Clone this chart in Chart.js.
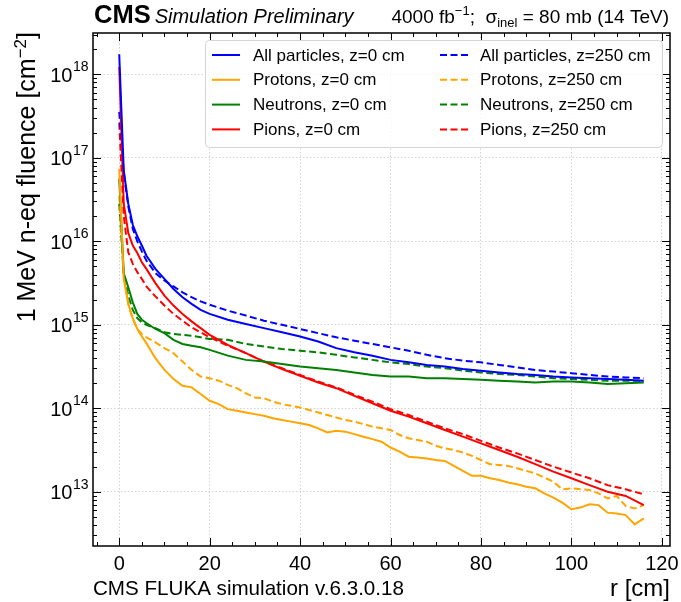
<!DOCTYPE html>
<html lang="en">
  <head>
    <meta charset="UTF-8" />
    <title>1 MeV n-eq fluence vs r</title>
    <script src="https://cdn.jsdelivr.net/npm/chart.js"></script>
    <style>
      body { margin: 0; background: #fff; }
      canvas { display: block; }
    </style>
  </head>
  <body>
    <canvas id="fluence" width="681" height="602"></canvas>

    <script>
      // radius samples [cm]
      const rCoarse = [0, 1, 2, 3, 4, 5, 6, 8, 10, 12, 14, 16, 18, 20, 24, 28, 32, 36, 40, 44, 48, 52, 56, 60,
        64, 68, 72, 76, 80, 84, 88, 92, 96, 100, 104, 108, 112, 116];
      const rFine = [0, 1, 2, 3, 4, 5, 6, 8, 10, 12, 14, 16, 18, 20, 22, 24, 26, 28, 30, 32, 34, 36, 38, 40,
        42, 44, 46, 48, 50, 52, 54, 56, 58, 60, 62, 64, 66, 68, 70, 72, 74, 76, 78, 80, 82, 84, 86, 88, 90,
        92, 94, 96, 98, 100, 102, 104, 106, 108, 110, 112, 114, 116];

      // fluence [cm^-2], z = 0 cm
      const allZ0 = [1.74e18, 7.08e16, 2.82e16, 1.58e16, 1.15e16, 8.91e15, 6.76e15, 4.68e15, 3.55e15, 2.69e15,
        2.14e15, 1.78e15, 1.51e15, 1.35e15, 1.15e15, 1.02e15, 9.12e14, 8.13e14, 7.24e14, 6.31e14, 5.25e14,
        4.68e14, 4.27e14, 3.80e14, 3.55e14, 3.31e14, 3.16e14, 2.95e14, 2.82e14, 2.69e14, 2.57e14, 2.51e14,
        2.40e14, 2.34e14, 2.29e14, 2.24e14, 2.19e14, 2.14e14];
      const protonsZ0 = [7.41e16, 3.55e15, 1.78e15, 1.20e15, 8.91e14, 7.24e14, 6.03e14, 3.98e14, 2.88e14,
        2.24e14, 1.86e14, 1.78e14, 1.48e14, 1.23e14, 1.12e14, 9.77e13, 9.33e13, 8.91e13, 8.51e13, 8.13e13,
        7.59e13, 7.24e13, 6.92e13, 6.61e13, 6.31e13, 5.75e13, 5.13e13, 5.37e13, 5.25e13, 4.90e13, 4.57e13,
        4.27e13, 3.98e13, 3.39e13, 3.02e13, 2.63e13, 2.57e13, 2.51e13, 2.40e13, 2.34e13, 2.04e13, 1.78e13,
        1.55e13, 1.55e13, 1.45e13, 1.38e13, 1.29e13, 1.23e13, 1.15e13, 1.10e13, 9.55e12, 8.51e12, 7.41e12,
        6.17e12, 6.46e12, 7.08e12, 6.92e12, 5.62e12, 5.50e12, 5.25e12, 4.07e12, 4.79e12];
      const neutronsZ0 = [5.62e16, 4.17e15, 2.82e15, 1.86e15, 1.35e15, 1.15e15, 1.05e15, 8.91e14, 7.94e14,
        6.61e14, 5.89e14, 5.62e14, 5.37e14, 5.01e14, 4.27e14, 3.80e14, 3.63e14, 3.39e14, 3.16e14, 3.02e14,
        2.88e14, 2.69e14, 2.51e14, 2.40e14, 2.40e14, 2.29e14, 2.29e14, 2.24e14, 2.19e14, 2.14e14, 2.09e14,
        2.04e14, 2.09e14, 2.09e14, 2.04e14, 1.95e14, 2.00e14, 2.04e14];
      const pionsZ0 = [1.23e18, 2.82e16, 1.26e16, 8.91e15, 7.24e15, 5.62e15, 4.68e15, 3.16e15, 2.24e15,
        1.70e15, 1.35e15, 1.10e15, 9.12e14, 7.59e14, 5.75e14, 4.57e14, 3.63e14, 2.95e14, 2.45e14, 2.04e14,
        1.74e14, 1.41e14, 1.15e14, 9.33e13, 7.94e13, 6.61e13, 5.50e13, 4.57e13, 3.80e13, 3.16e13, 2.63e13,
        2.14e13, 1.74e13, 1.45e13, 1.20e13, 1.00e13, 8.91e12, 6.92e12];

      // fluence [cm^-2], z = 250 cm
      const allZ250 = [3.55e17, 6.61e16, 2.63e16, 1.41e16, 1.00e16, 7.59e15, 5.89e15, 4.17e15, 3.39e15,
        2.88e15, 2.45e15, 2.14e15, 1.91e15, 1.74e15, 1.48e15, 1.29e15, 1.12e15, 1.00e15, 8.91e14, 7.94e14,
        7.08e14, 6.46e14, 5.89e14, 5.37e14, 4.90e14, 4.37e14, 3.98e14, 3.72e14, 3.55e14, 3.31e14, 3.09e14,
        2.88e14, 2.75e14, 2.63e14, 2.51e14, 2.40e14, 2.34e14, 2.29e14];
      const protonsZ250 = [3.55e16, 3.98e15, 1.78e15, 1.17e15, 8.91e14, 7.76e14, 7.08e14, 6.17e14, 5.25e14,
        4.57e14, 3.63e14, 2.88e14, 2.40e14, 2.29e14, 2.14e14, 1.91e14, 1.74e14, 1.51e14, 1.35e14, 1.32e14,
        1.20e14, 1.12e14, 1.07e14, 1.02e14, 9.55e13, 8.91e13, 8.32e13, 7.76e13, 7.24e13, 6.92e13, 6.46e13,
        6.03e13, 5.75e13, 5.50e13, 4.79e13, 4.37e13, 4.17e13, 3.98e13, 3.55e13, 3.31e13, 3.16e13, 2.95e13,
        2.69e13, 2.40e13, 2.14e13, 2.09e13, 2.04e13, 1.91e13, 1.78e13, 1.66e13, 1.48e13, 1.32e13, 1.07e13,
        1.10e13, 1.07e13, 1.05e13, 9.55e12, 8.32e12, 8.91e12, 6.76e12, 6.31e12, 6.92e12];
      const neutronsZ250 = [2.82e16, 3.98e15, 2.24e15, 1.51e15, 1.20e15, 1.07e15, 1.00e15, 9.12e14, 8.13e14,
        7.76e14, 7.59e14, 7.41e14, 7.08e14, 6.76e14, 6.61e14, 5.89e14, 5.50e14, 5.13e14, 4.90e14, 4.68e14,
        4.37e14, 4.07e14, 3.80e14, 3.55e14, 3.39e14, 3.16e14, 3.02e14, 2.82e14, 2.69e14, 2.57e14, 2.51e14,
        2.40e14, 2.29e14, 2.24e14, 2.19e14, 2.14e14, 2.14e14, 2.14e14];
      const pionsZ250 = [2.63e17, 2.00e16, 7.41e15, 5.37e15, 4.27e15, 3.55e15, 2.88e15, 2.19e15, 1.70e15,
        1.35e15, 1.12e15, 9.33e14, 8.13e14, 7.08e14, 5.62e14, 4.57e14, 3.63e14, 3.02e14, 2.51e14, 2.09e14,
        1.78e14, 1.45e14, 1.20e14, 9.77e13, 8.32e13, 6.92e13, 5.75e13, 4.90e13, 4.07e13, 3.39e13, 2.88e13,
        2.40e13, 2.00e13, 1.70e13, 1.45e13, 1.20e13, 1.07e13, 9.33e12];

      const xTicks = [0, 20, 40, 60, 80, 100, 120];
      const yExps = [13, 14, 15, 16, 17, 18];

      const FONT = '"Liberation Sans", Arial, Helvetica, sans-serif';
      const DASH = [7, 3.5];

      function pts(r, v) {
        return r.map((x, i) => ({ x: x, y: v[i] }));
      }

      function series(label, r, v, color, dashed) {
        return {
          label: label,
          data: pts(r, v),
          borderColor: color,
          backgroundColor: color,
          borderWidth: 2,
          borderDash: dashed ? DASH : [],
          pointRadius: 0,
          tension: 0,
          fill: false,
        };
      }

      // draws frame, inward ticks, tick labels, texts and the 2-column legend
      const decorations = {
        id: 'decorations',
        afterDraw(chart) {
          const { ctx, chartArea: a } = chart;
          const x = chart.scales.x;
          const y = chart.scales.y;
          ctx.save();

          // ticks
          ctx.strokeStyle = '#000';
          ctx.lineWidth = 1;
          ctx.beginPath();
          for (let v = -5; v <= 120; v += 5) {
            const px = Math.round(x.getPixelForValue(v)) + 0.5;
            if (px < a.left || px > a.right) continue;
            const len = v % 20 === 0 ? 8 : 4;
            ctx.moveTo(px, a.bottom); ctx.lineTo(px, a.bottom - len);
            ctx.moveTo(px, a.top); ctx.lineTo(px, a.top + len);
          }
          for (let e = 12; e <= 18; e++) {
            for (let m = 1; m < 10; m++) {
              const py = Math.round(y.getPixelForValue(m * Math.pow(10, e))) + 0.5;
              if (py < a.top || py > a.bottom) continue;
              const len = m === 1 ? 8 : 4;
              ctx.moveTo(a.left, py); ctx.lineTo(a.left + len, py);
              ctx.moveTo(a.right, py); ctx.lineTo(a.right - len, py);
            }
          }
          ctx.stroke();

          // frame
          ctx.lineWidth = 1.5;
          ctx.strokeRect(a.left, a.top, a.right - a.left, a.bottom - a.top);

          ctx.fillStyle = '#000';
          ctx.textBaseline = 'alphabetic';

          // x tick labels
          ctx.font = '20px ' + FONT;
          ctx.textAlign = 'center';
          xTicks.forEach((v) => {
            ctx.fillText(String(v), x.getPixelForValue(v), a.bottom + 24);
          });

          // y tick labels 10^n
          ctx.textAlign = 'left';
          yExps.forEach((e) => {
            const py = y.getPixelForValue(Math.pow(10, e));
            ctx.font = '14px ' + FONT;
            const w2 = ctx.measureText(String(e)).width;
            ctx.font = '20px ' + FONT;
            const w1 = ctx.measureText('10').width;
            const x0 = a.left - 5 - w1 - w2;
            ctx.fillText('10', x0, py + 7.5);
            ctx.font = '14px ' + FONT;
            ctx.fillText(String(e), x0 + w1 + 0.5, py - 3);
          });

          // axis titles
          ctx.font = '24px ' + FONT;
          ctx.textAlign = 'right';
          ctx.fillText('r [cm]', a.right, 596);

          ctx.save();
          ctx.translate(35, a.top - 1);
          ctx.rotate(-Math.PI / 2);
          ctx.textAlign = 'left';
          const t1 = '1 MeV n-eq fluence [cm';
          const t2 = '\u22122';
          const t3 = ']';
          ctx.font = '25px ' + FONT;
          const w1 = ctx.measureText(t1).width;
          const w3 = ctx.measureText(t3).width;
          ctx.font = '17px ' + FONT;
          const w2 = ctx.measureText(t2).width;
          let cx = -(w1 + w2 + w3);
          ctx.font = '25px ' + FONT;
          ctx.fillText(t1, cx, 0);
          cx += w1;
          ctx.font = '17px ' + FONT;
          ctx.fillText(t2, cx, -9);
          cx += w2;
          ctx.font = '25px ' + FONT;
          ctx.fillText(t3, cx, 0);
          ctx.restore();

          // footer
          ctx.font = '20.6px ' + FONT;
          ctx.textAlign = 'left';
          ctx.fillText('CMS FLUKA simulation v.6.3.0.18', a.left, 595);

          // header
          ctx.font = 'bold 25.5px ' + FONT;
          ctx.fillText('CMS', a.left + 1, 23);
          const cmsW = ctx.measureText('CMS').width;
          ctx.font = 'italic 20px ' + FONT;
          ctx.fillText('Simulation Preliminary', a.left + cmsW + 5, 23);

          const parts = [
            { t: '4000 fb', s: 19, dy: 0 },
            { t: '\u22121', s: 13, dy: -8 },
            { t: ';  \u03c3', s: 19, dy: 0 },
            { t: 'inel', s: 13, dy: 4 },
            { t: ' = 80 mb (14 TeV)', s: 19, dy: 0 },
          ];
          let total = 0;
          parts.forEach((p) => {
            ctx.font = p.s + 'px ' + FONT;
            p.w = ctx.measureText(p.t).width;
            total += p.w;
          });
          let hx = a.right - 1 - total;
          parts.forEach((p) => {
            ctx.font = p.s + 'px ' + FONT;
            ctx.fillText(p.t, hx, 23 + p.dy);
            hx += p.w;
          });

          // legend
          const lx = 205, ly = 40, lw = 457, lh = 107;
          ctx.beginPath();
          ctx.roundRect(lx + 0.5, ly + 0.5, lw, lh, 4);
          ctx.fillStyle = 'rgba(255,255,255,0.8)';
          ctx.fill();
          ctx.strokeStyle = '#d4d4d4';
          ctx.lineWidth = 1;
          ctx.stroke();

          const colLine = [212, 440];
          const colText = [253, 480];
          ctx.font = '17px ' + FONT;
          ctx.textBaseline = 'middle';
          ctx.textAlign = 'left';
          chart.data.datasets.forEach((ds, i) => {
            const col = i < 4 ? 0 : 1;
            const row = i % 4;
            const yy = 55 + row * 24.8;
            ctx.beginPath();
            ctx.strokeStyle = ds.borderColor;
            ctx.lineWidth = 2;
            ctx.setLineDash(ds.borderDash);
            ctx.moveTo(colLine[col], yy);
            ctx.lineTo(colLine[col] + 28, yy);
            ctx.stroke();
            ctx.setLineDash([]);
            ctx.fillStyle = '#000';
            ctx.fillText(ds.label, colText[col], yy + 1);
          });

          ctx.restore();
        },
      };

      const gridStyle = {
        color: '#d2d2d2',
        lineWidth: 1,
        drawTicks: false,
      };

      new Chart(document.getElementById('fluence'), {
        type: 'line',
        data: {
          datasets: [
            series('All particles, z=0 cm', rCoarse, allZ0, '#0000ff', false),
            series('Protons, z=0 cm', rFine, protonsZ0, '#ffa500', false),
            series('Neutrons, z=0 cm', rCoarse, neutronsZ0, '#008000', false),
            series('Pions, z=0 cm', rCoarse, pionsZ0, '#ff0000', false),
            series('All particles, z=250 cm', rCoarse, allZ250, '#0000ff', true),
            series('Protons, z=250 cm', rFine, protonsZ250, '#ffa500', true),
            series('Neutrons, z=250 cm', rCoarse, neutronsZ250, '#008000', true),
            series('Pions, z=250 cm', rCoarse, pionsZ250, '#ff0000', true),
          ],
        },
        options: {
          responsive: false,
          animation: false,
          devicePixelRatio: 1,
          layout: { padding: { left: 93, top: 33, right: 11, bottom: 56 } },
          plugins: {
            legend: { display: false },
            tooltip: { enabled: false },
          },
          scales: {
            x: {
              type: 'linear',
              min: -5.8,
              max: 121.8,
              afterBuildTicks: (s) => { s.ticks = xTicks.map((v) => ({ value: v })); },
              ticks: { display: false },
              grid: gridStyle,
              border: { display: false, dash: [1.5, 2] },
            },
            y: {
              type: 'logarithmic',
              min: 2.24e12,
              max: 3.13e18,
              afterBuildTicks: (s) => { s.ticks = yExps.map((e) => ({ value: Math.pow(10, e) })); },
              ticks: { display: false },
              grid: gridStyle,
              border: { display: false, dash: [1.5, 2] },
            },
          },
        },
        plugins: [decorations],
      });
    </script>
  </body>
</html>
